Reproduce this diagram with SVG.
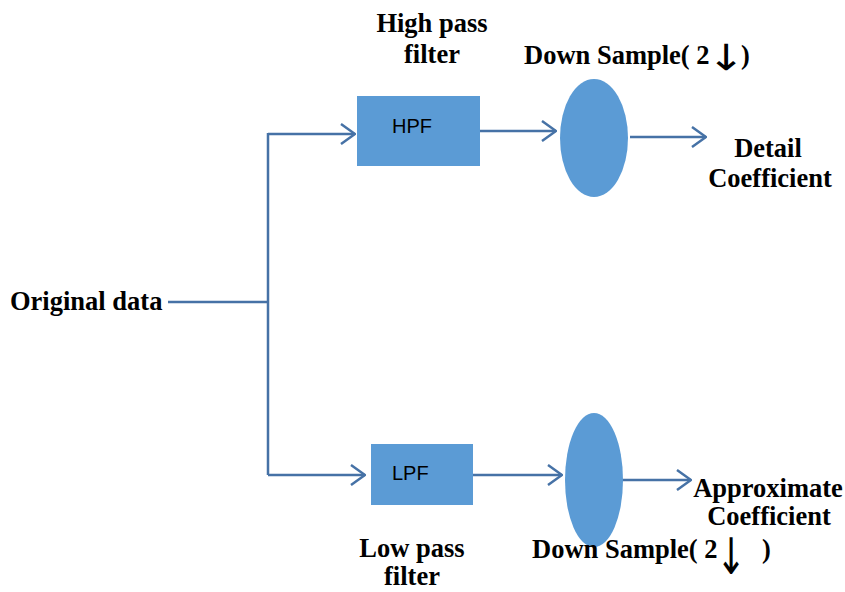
<svg xmlns="http://www.w3.org/2000/svg" width="845" height="592" viewBox="0 0 845 592">
<defs>
<style>
.lbl{font-family:"Liberation Serif","Times New Roman",serif;font-weight:bold;font-size:26.5px;fill:#000}
.box{fill:#5B9BD5}
.bt{font-family:"Liberation Sans",Arial,sans-serif;font-size:20px;fill:#000}
.ln{fill:none;stroke:#4672A6;stroke-width:2.5}
.arw{font-family:"DejaVu Sans",sans-serif;font-weight:normal;font-size:36px;fill:#000}
</style>
<marker id="ah" viewBox="0 0 16 22" refX="15" refY="11" markerWidth="16" markerHeight="22" markerUnits="userSpaceOnUse" orient="auto">
<path d="M1,1 L15,11 L1,21" fill="none" stroke="#4672A6" stroke-width="2.5"/>
</marker>
</defs>
<rect width="845" height="592" fill="#fff"/>
<g id="connectors">
<path class="ln" d="M168,302 H268"/>
<path class="ln" d="M268,133 V475"/>
<path class="ln" d="M268,134 H355" marker-end="url(#ah)"/>
<path class="ln" d="M268,475 H365" marker-end="url(#ah)"/>
<path class="ln" d="M480,131 H556" marker-end="url(#ah)"/>
<path class="ln" d="M473,475 H562" marker-end="url(#ah)"/>
<path class="ln" d="M630,137 H706" marker-end="url(#ah)"/>
<path class="ln" d="M615,480 H691" marker-end="url(#ah)"/>
</g>
<g id="original">
<text class="lbl" x="10" y="310">Original data</text>
</g>
<g id="hpf">
<rect class="box" x="357" y="96" width="123" height="70"/>
<text class="bt" x="392" y="133">HPF</text>
<text class="lbl" x="432" y="32" text-anchor="middle">High pass</text>
<text class="lbl" x="432" y="63" text-anchor="middle">filter</text>
</g>
<g id="lpf">
<rect class="box" x="371" y="444" width="102" height="61"/>
<text class="bt" x="392" y="480">LPF</text>
<text class="lbl" x="412" y="557" text-anchor="middle">Low pass</text>
<text class="lbl" x="412" y="585" text-anchor="middle">filter</text>
</g>
<g id="ds-top">
<ellipse class="box" cx="594" cy="138" rx="34" ry="59"/>
<text class="lbl" x="524" y="64">Down Sample( 2</text>
<text class="arw" transform="translate(707,70) scale(1.25,1)">↓</text>
<text class="lbl" x="741" y="64">)</text>
</g>
<g id="ds-bottom">
<ellipse class="box" cx="594" cy="480" rx="29" ry="67"/>
<text class="lbl" x="532" y="558">Down Sample( 2</text>
<text class="arw" transform="translate(716,574) scale(1,1.4)">↓</text>
<text class="lbl" x="762" y="558">)</text>
</g>
<g id="detail">
<text class="lbl" x="768" y="157" text-anchor="middle">Detail</text>
<text class="lbl" x="770" y="187" text-anchor="middle">Coefficient</text>
</g>
<g id="approx">
<text class="lbl" x="768" y="497" text-anchor="middle">Approximate</text>
<text class="lbl" x="769" y="525" text-anchor="middle">Coefficient</text>
</g>
</svg>
